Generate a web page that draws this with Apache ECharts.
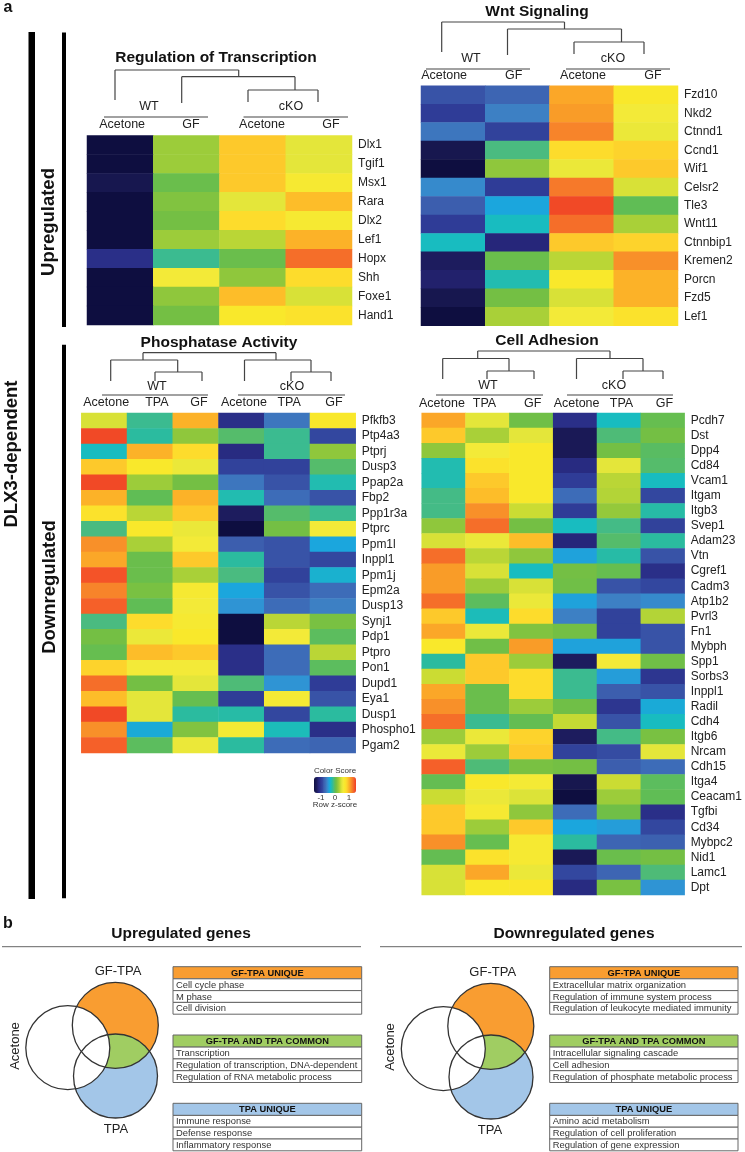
<!DOCTYPE html>
<html>
<head>
<meta charset="utf-8">
<style>html,body{margin:0;padding:0;background:#fff}#c{width:745px;height:1152px}</style>
<script src="https://cdn.jsdelivr.net/npm/echarts@6/dist/echarts.min.js"></script>
</head>
<body>
<div id="c"></div>
<script>
// ---------- data ----------
const twoCond = ['Acetone', 'GF', 'Acetone', 'GF'];
const threeCond = ['Acetone', 'TPA', 'GF', 'Acetone', 'TPA', 'GF'];

const transcriptionGenes = ['Dlx1','Tgif1','Msx1','Rara','Dlx2','Lef1','Hopx','Shh','Foxe1','Hand1'];
const transcriptionValues = [
  [-1.5,0.25,0.9,0.5],[-1.5,0.25,0.9,0.5],[-1.4,0.05,0.9,0.65],[-1.5,0.15,0.5,0.95],[-1.5,0.1,0.8,0.65],
  [-1.5,0.25,0.35,1.0],[-1.1,-0.15,0.05,1.3],[-1.5,0.6,0.2,0.8],[-1.5,0.2,0.95,0.45],[-1.5,0.1,0.7,0.75]
];
const wntGenes = ['Fzd10','Nkd2','Ctnnd1','Ccnd1','Wif1','Celsr2','Tle3','Wnt11','Ctnnbip1','Kremen2','Porcn','Fzd5','Lef1'];
const wntValues = [
  [-0.85,-0.75,1.05,0.7],[-1.0,-0.6,1.1,0.6],[-0.65,-0.95,1.2,0.55],[-1.4,-0.1,0.8,0.85],[-1.5,0.2,0.55,0.9],
  [-0.55,-1.0,1.25,0.45],[-0.8,-0.4,1.45,0.0],[-1.0,-0.3,1.3,0.3],[-0.3,-1.2,0.9,0.85],[-1.3,0.05,0.35,1.15],
  [-1.25,-0.25,0.7,1.0],[-1.4,0.1,0.45,1.0],[-1.5,0.3,0.6,0.75]
];
const phosphataseGenes = ['Pfkfb3','Ptp4a3','Ptprj','Dusp3','Ppap2a','Fbp2','Ppp1r3a','Ptprc','Ppm1l','Inppl1','Ppm1j','Epm2a','Dusp13','Synj1','Pdp1','Ptpro','Pon1','Dupd1','Eya1','Dusp1','Phospho1','Pgam2'];
const phosphataseValues = [
  [0.45,-0.15,1.0,-1.1,-0.65,0.7],[1.45,-0.2,0.2,-0.05,-0.15,-0.9],[-0.3,1.0,0.8,-1.15,-0.15,0.2],
  [0.9,0.7,0.55,-0.95,-0.95,-0.05],[1.45,0.25,0.1,-0.65,-0.85,-0.25],[1.0,0.0,1.0,-0.25,-0.7,-0.85],
  [0.75,0.35,0.9,-1.3,-0.05,-0.15],[-0.1,0.7,0.55,-1.5,0.1,0.6],[1.15,0.3,0.6,-0.8,-0.85,-0.4],
  [1.05,0.05,0.9,-0.2,-0.85,-0.9],[1.4,0.05,0.3,-0.1,-0.95,-0.35],[1.2,0.12,0.65,-0.4,-0.85,-0.7],
  [1.35,0.0,0.6,-0.5,-0.7,-0.6],[-0.1,0.8,0.65,-1.5,0.35,0.12],[0.1,0.55,0.7,-1.5,0.6,-0.02],
  [0.03,0.95,0.9,-1.1,-0.7,0.35],[0.85,0.6,0.6,-1.1,-0.7,-0.02],[1.3,0.1,0.5,-0.08,-0.5,-1.0],
  [0.95,0.5,0.03,-1.0,0.62,-0.85],[1.45,0.5,-0.2,-0.22,-0.9,-0.2],[1.15,-0.38,0.15,0.62,-0.28,-1.1],
  [1.35,-0.02,0.55,-0.2,-0.7,-0.75]
];
const adhesionGenes = ['Pcdh7','Dst','Dpp4','Cd84','Vcam1','Itgam','Itgb3','Svep1','Adam23','Vtn','Cgref1','Cadm3','Atp1b2','Pvrl3','Fn1','Mybph','Spp1','Sorbs3','Inppl1','Radil','Cdh4','Itgb6','Nrcam','Cdh15','Itga4','Ceacam1','Tgfbi','Cd34','Mybpc2','Nid1','Lamc1','Dpt'];
const adhesionValues = [
  [1.05,0.5,0.08,-1.1,-0.3,0.03],[0.9,0.3,0.5,-1.35,-0.08,0.1],[0.2,0.6,0.7,-1.35,0.1,-0.03],
  [-0.25,0.75,0.7,-1.15,0.5,-0.05],[-0.25,0.9,0.7,-1.0,0.35,-0.3],[-0.12,0.95,0.7,-0.7,0.33,-0.9],
  [-0.12,1.15,0.4,-1.0,0.22,-0.22],[0.2,1.3,0.1,-0.3,-0.12,-0.95],[0.45,0.55,0.95,-1.2,-0.05,-0.2],
  [1.3,0.35,0.2,-0.42,-0.22,-0.85],[1.1,0.45,-0.3,0.1,0.03,-1.1],[1.1,0.25,0.45,0.08,-0.85,-0.9],
  [1.3,-0.02,0.55,-0.42,-0.6,-0.55],[0.9,-0.28,0.8,-0.6,-0.95,0.33],[1.05,0.55,0.15,0.1,-0.95,-0.85],
  [0.7,0.08,1.1,-0.42,-0.42,-0.85],[-0.2,0.9,0.25,-1.3,0.6,0.08],[0.4,0.9,0.8,-0.15,-0.45,-1.05],
  [1.05,0.05,0.8,-0.15,-0.8,-0.85],[1.15,0.05,0.25,0.08,-1.05,-0.38],[1.3,-0.15,0.02,0.38,-0.85,-0.3],
  [0.25,0.55,0.85,-1.3,-0.12,0.12],[0.55,0.25,0.9,-0.95,-0.88,0.5],[1.35,-0.08,0.12,0.1,-0.8,-0.7],
  [0.02,0.7,0.62,-1.4,0.4,-0.02],[0.4,0.55,0.47,-1.5,0.25,0.0],[0.9,0.65,0.2,-0.7,0.08,-1.1],
  [0.9,0.25,0.9,-0.4,-0.45,-0.9],[1.15,0.03,0.65,-0.2,-0.75,-0.78],[0.02,0.75,0.65,-1.35,0.05,0.1],
  [0.45,1.05,0.55,-0.9,-0.75,-0.08],[0.45,0.7,0.72,-1.15,0.12,-0.5]
];
const colorTicks = [-1, 0, 1];
const upTables = [
  ['GF-TPA UNIQUE', ['Cell cycle phase','M phase','Cell division']],
  ['GF-TPA AND TPA COMMON', ['Transcription','Regulation of transcription, DNA-dependent','Regulation of RNA metabolic process']],
  ['TPA UNIQUE', ['Immune response','Defense response','Inflammatory response']]
];
const downTables = [
  ['GF-TPA UNIQUE', ['Extracellular matrix organization','Regulation of immune system process','Regulation of leukocyte mediated immunity']],
  ['GF-TPA AND TPA COMMON', ['Intracellular signaling cascade','Cell adhesion','Regulation of phosphate metabolic process']],
  ['TPA UNIQUE', ['Amino acid metabolism','Regulation of cell proliferation','Regulation of gene expression']]
];

// ---------- scale: evenly spaced stops from -1.5 to 1.5 in steps of 0.1 ----------
const palette = ['#0e0e40','#17174f','#1d1c5e','#26267a','#2a2f88','#2f3c97','#33479f','#3c5eae','#3d6cb8','#3d80c4',
  '#2f94d4','#1ba6dd','#18bcc0','#2bbb9f','#4abb80','#60bd55','#74bf44','#8fc73c','#a9d038','#cbdc33','#e4e63a',
  '#f3ea38','#f9e82b','#fddc2c','#fdc92b','#fcb228','#f99c28','#f7842a','#f56e29','#f45328','#ee3e24'];

// ---------- layout ----------
const FONT = '"Liberation Sans", Arial, sans-serif';
const panels = [
  { rows: transcriptionGenes, cols: twoCond, vals: transcriptionValues, box: [87, 135.5, 265, 189.5],
    shift: [2, 4.6, 9.4, 12], title: ['Regulation of Transcription', 216, 58], labelY: 125 },
  { rows: wntGenes, cols: twoCond, vals: wntValues, box: [421, 85.7, 257, 240],
    shift: [-9, -3.7, 1.4, 7], title: ['Wnt Signaling', 537, 12], labelY: 76 },
  { rows: phosphataseGenes, cols: threeCond, vals: phosphataseValues, box: [81.3, 413, 274.4, 340],
    shift: [2, 7, 3.4, 2.6, 2, 1], title: ['Phosphatase Activity', 219, 343], labelY: 403 },
  { rows: adhesionGenes, cols: threeCond, vals: adhesionValues, box: [421.7, 413, 263.6, 482],
    shift: [-1.7, -3, 1.5, 1.5, 2.6, 1.7], title: ['Cell Adhesion', 547, 341], labelY: 404 }
];

const grid = [], xAxis = [], yAxis = [], series = [];
panels.forEach((p, i) => {
  const [l, t, w, h] = p.box;
  grid.push({ left: l, top: t, width: w, height: h, containLabel: false });
  xAxis.push({
    type: 'category', gridIndex: i, position: 'top',
    data: p.cols.map((c, k) => {
      const d = p.shift[k];
      return { value: c, textStyle: { padding: d >= 0 ? [0, 0, 0, 2 * d] : [0, -2 * d, 0, 0] } };
    }),
    axisLine: { show: false }, axisTick: { show: false }, splitLine: { show: false },
    axisLabel: { interval: 0, margin: t - p.labelY - 6, color: '#222', fontFamily: FONT, fontSize: 12.5, hideOverlap: false }
  });
  yAxis.push({
    type: 'category', gridIndex: i, position: 'right', inverse: true, data: p.rows,
    axisLine: { show: false }, axisTick: { show: false }, splitLine: { show: false },
    axisLabel: { interval: 0, margin: 6, color: '#222', fontFamily: FONT, fontSize: 12, hideOverlap: false }
  });
  const data = [];
  p.vals.forEach((r, y) => r.forEach((v, x) => data.push([x, y, v])));
  series.push({
    type: 'heatmap', xAxisIndex: i, yAxisIndex: i, data, silent: true, animation: false,
    itemStyle: { borderWidth: 0 }, progressive: 0
  });
});

// dendrogram and header rules: [x1,y1,x2,y2]
const dendroLines = [
  [115,70,115,100],[115,70,238.7,70],[238.7,70,238.7,76.7],[181.7,76.7,295,76.7],[181.7,76.7,181.7,103],[295,76.7,295,90],[248,90,318,90],[248,90,248,102],[318,90,318,102],
  [441.7,22,441.7,52],[441.7,22,564.5,22],[564.5,22,564.5,29],[507.5,29,621.5,29],[507.5,29,507.5,55],[621.5,29,621.5,42],[574,42,644,42],[574,42,574,54],[644,42,644,54],
  [143,352.7,276,352.7],[143,352.7,143,360],[276,352.7,276,360],[110.7,360,177.7,360],[110.7,360,110.7,381],[177.7,360,177.7,372],[155,372,202,372],[155,372,155,381],[202,372,202,381],
  [244.5,360,311,360],[244.5,360,244.5,381],[311,360,311,372],[291,372,331,372],[291,372,291,381],[331,372,331,381],
  [477.7,351,610,351],[477.7,351,477.7,358.5],[610,351,610,358.5],[442.7,358.5,509,358.5],[442.7,358.5,442.7,379],[509,358.5,509,371],[487,371,534,371],[487,371,487,379],[534,371,534,379],
  [576.5,358.5,643,358.5],[576.5,358.5,576.5,379],[643,358.5,643,371],[623,371,663,371],[623,371,623,379],[663,371,663,379]
];
const headerRules = [[104,117,208,117],[243.5,117,348,117],[426,69,530,69],[566,69,670,69],[102,395,208,395],[238,395,345,395],[436,395,543,395],[567,395,673,395]];
const groupLabels = [['WT',149,107],['cKO',291,107],['WT',471,59],['cKO',613,59],['WT',157,387],['cKO',292,387],['WT',488,386],['cKO',614,386]];

const gfx = [];
const line = (a, stroke, width) => gfx.push({ type: 'line', silent: true, z: 20,
  shape: { x1: a[0], y1: a[1], x2: a[2], y2: a[3] }, style: { stroke, lineWidth: width } });
const text = (s, x, y, size, opt = {}) => gfx.push({ type: 'text', silent: true, z: 30, x, y, rotation: opt.rot || 0,
  style: { text: s, fill: opt.fill || '#222', font: `${opt.bold ? 'bold ' : ''}${size}px ${FONT}`,
    textAlign: opt.align || 'center', textVerticalAlign: 'middle', verticalAlign: 'middle' } });
const rect = (x, y, w, h, fill, stroke) => gfx.push({ type: 'rect', silent: true, z: 15, shape: { x, y, width: w, height: h },
  style: { fill: fill || 'transparent', stroke: stroke || null, lineWidth: stroke ? 1 : 0 } });

dendroLines.forEach(a => line(a, '#444', 1.2));
headerRules.forEach(a => line(a, '#444', 1.2));
groupLabels.forEach(g => text(g[0], g[1], g[2], 12.5));
panels.forEach(p => text(p.title[0], p.title[1], p.title[2], 15.5, { bold: true, fill: '#111' }));

// side bars
rect(28.5, 32, 6.5, 867, '#000');
rect(62, 32.5, 4, 294.5, '#000');
rect(62, 344.7, 4, 553.5, '#000');
const V = Math.PI / 2;
text('DLX3-dependent', 12, 454, 18.5, { bold: true, rot: V, fill: '#111' });
text('Upregulated', 49, 222, 18.5, { bold: true, rot: V, fill: '#111' });
text('Downregulated', 50, 587, 18.5, { bold: true, rot: V, fill: '#111' });
text('a', 8, 8, 16, { bold: true, fill: '#111' });
text('b', 8, 924, 16, { bold: true, fill: '#111' });

// colour key
text('Color Score', 335, 771, 8, { fill: '#333' });
text('Row z-score', 335, 805, 8, { fill: '#333' });
colorTicks.forEach(t => text(String(t), 314 + (t + 1.5) / 3 * 42, 798, 8, { fill: '#333' }));

// section b
text('Upregulated genes', 181, 934, 15.5, { bold: true, fill: '#111' });
text('Downregulated genes', 574, 934, 15.5, { bold: true, fill: '#111' });
line([2, 946.7, 361, 946.7], '#666', 1);
line([380, 946.7, 742, 946.7], '#666', 1);

const ORANGE = '#F99D31', GREEN = '#A0CD62', BLUE = '#A3C6E8';
function lensPoints(a, b) {
  // outline of the overlap of two circles, sampled along each bounding arc
  const pts = [];
  const arc = (c, o) => {
    for (let k = 0; k < 360; k++) {
      const th = k * Math.PI / 180, x = c.x + c.r * Math.cos(th), y = c.y + c.r * Math.sin(th);
      if (Math.hypot(x - o.x, y - o.y) <= o.r) pts.push([x, y]);
    }
  };
  arc(a, b); arc(b, a);
  const cx = pts.reduce((s, p) => s + p[0], 0) / pts.length, cy = pts.reduce((s, p) => s + p[1], 0) / pts.length;
  return pts.sort((p, q) => Math.atan2(p[1] - cy, p[0] - cx) - Math.atan2(q[1] - cy, q[0] - cx));
}
function venn(dx, dy, lx) {
  const gf = { x: 115.3 + dx, y: 1025.3 + dy, r: 43 }, tpa = { x: 115.5 + dx, y: 1076 + dy, r: 42 }, ac = { x: 67.8 + dx, y: 1047.7 + dy, r: 42 };
  const circ = (c, fill, stroke, z) => gfx.push({ type: 'circle', silent: true, z, shape: { cx: c.x, cy: c.y, r: c.r },
    style: { fill: fill || 'transparent', stroke: stroke || null, lineWidth: stroke ? 1.3 : 0 } });
  circ(gf, ORANGE, null, 10);
  circ(tpa, BLUE, null, 10);
  gfx.push({ type: 'polygon', silent: true, z: 11, shape: { points: lensPoints(gf, tpa) }, style: { fill: GREEN } });
  circ(ac, '#fff', null, 12);
  [gf, tpa, ac].forEach(c => circ(c, null, '#333', 13));
  text('GF-TPA', lx[0], 971 + dy, 13);
  text('TPA', lx[1], 1129 + dy, 13);
  text('Acetone', lx[2], 1046 + dy, 13, { rot: V });
}
venn(0, 0, [118, 116, 15]);
venn(375.5, 1, [492.7, 490, 390]);

const headFill = [ORANGE, GREEN, BLUE];
function tables(x, w, list) {
  const tops = [966.7, 1035, 1103.3];
  list.forEach((tb, i) => {
    const y0 = tops[i], hh = 12.1, rh = 11.8;
    rect(x, y0, w, hh, headFill[i], '#666');
    text(tb[0], x + w / 2, y0 + hh / 2 + 0.5, 9.3, { bold: true, fill: '#111' });
    tb[1].forEach((s, k) => {
      const y = y0 + hh + k * rh;
      rect(x, y, w, rh, '#fff', '#666');
      text(s, x + 3, y + rh / 2 + 0.5, 9.4, { align: 'left', fill: '#333' });
    });
  });
}
tables(173, 188.7, upTables);
tables(549.7, 188.3, downTables);

const chart = echarts.init(document.getElementById('c'), null, { renderer: 'canvas', width: 745, height: 1152 });
chart.setOption({
  animation: false, backgroundColor: '#fff',
  grid, xAxis, yAxis, series,
  visualMap: {
    type: 'continuous', min: -1.5, max: 1.5, orient: 'horizontal', left: 309, top: 772,
    itemWidth: 16, itemHeight: 42, calculable: false, realtime: false, text: null, showLabel: false, hoverLink: false, silent: true,
    seriesIndex: [0, 1, 2, 3], inRange: { color: palette }, textStyle: { fontSize: 0 }, padding: 5
  },
  graphic: { elements: gfx }
});
</script>
</body>
</html>
